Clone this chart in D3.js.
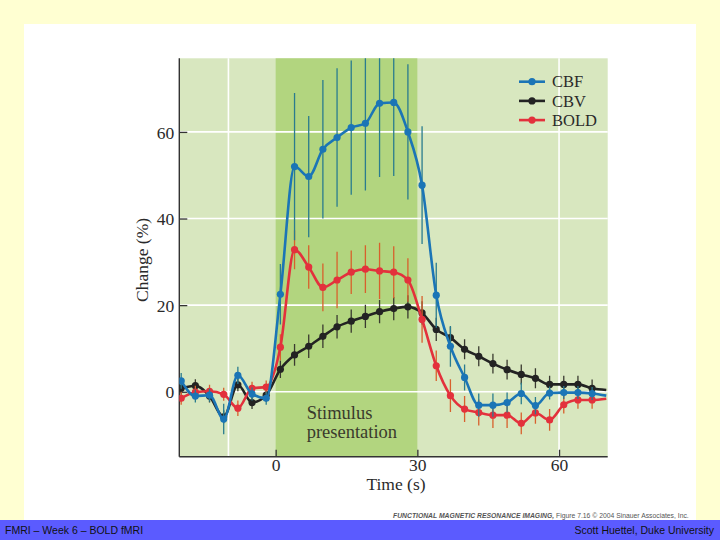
<!DOCTYPE html>
<html>
<head>
<meta charset="utf-8">
<script src="https://cdn.jsdelivr.net/npm/d3@7/dist/d3.min.js"></script>
<style>
  html, body { margin: 0; padding: 0; background: #ffffd2; }
  svg { display: block; }
</style>
</head>
<body>
<svg id="chart" width="720" height="540"></svg>
<script>
// ---- data ----
const times = [-20, -17, -14, -11, -8, -5, -2, 1, 4, 7, 10, 13, 16, 19, 22, 25, 28, 31, 34, 37, 40, 43, 46, 49, 52, 55, 58, 61, 64, 67, 70];
const cbf = [2.5, -1.0, -0.8, -6.3, 3.8, -0.5, -1.5, 22.5, 52.0, 49.7, 56.0, 58.7, 61.0, 62.0, 66.6, 66.8, 60.0, 47.7, 22.3, 10.5, 3.3, -3.1, -3.1, -2.5, -0.4, -3.2, -0.3, -0.2, -0.2, -0.4, -0.9];
const cbfErr = [1.8, 1.5, 1.5, 3.5, 2.0, 1.5, 1.5, 7.0, 17.0, 14.0, 16.0, 16.0, 15.5, 15.5, 17.0, 17.0, 15.6, 13.6, 7.5, 4.7, 3.0, 2.7, 2.7, 2.3, 2.5, 2.0, 1.5, 1.5, 1.5, 1.5, 0];
const cbv = [0.8, 1.4, -1.0, -5.8, 1.6, -2.5, -0.8, 5.2, 8.5, 10.5, 12.8, 15.0, 16.3, 17.4, 18.5, 19.2, 19.6, 18.2, 14.4, 12.5, 9.8, 8.2, 6.5, 5.1, 4.0, 3.1, 1.7, 1.7, 1.7, 0.8, 0.4];
const cbvErr = [1.5, 1.5, 1.5, 1.5, 1.5, 1.5, 1.5, 2.0, 2.5, 2.7, 2.7, 2.7, 2.7, 2.7, 2.7, 2.7, 2.7, 2.7, 2.7, 2.5, 2.3, 2.3, 2.3, 2.3, 2.3, 2.3, 2.0, 2.0, 2.0, 2.0, 0];
const bold = [-1.5, -0.1, 0.1, -0.6, -3.8, 0.8, 1.1, 10.3, 32.8, 28.8, 24.1, 25.8, 27.6, 28.3, 27.9, 27.6, 25.8, 16.7, 6.0, -0.9, -4.0, -4.8, -5.4, -5.4, -7.3, -4.9, -6.5, -3.0, -1.9, -1.9, -1.6];
const boldErr = [1.5, 1.5, 1.5, 1.5, 1.8, 1.5, 1.5, 3.0, 4.5, 5.0, 5.5, 6.5, 5.0, 5.5, 6.5, 6.0, 5.0, 5.4, 3.5, 3.8, 3.0, 3.0, 3.0, 3.0, 2.5, 2.5, 2.5, 2.0, 2.0, 2.0, 0];
const seriesNames = ["CBF", "CBV", "BOLD"];
const xTicks = [0, 30, 60];
const yTicks = [0, 20, 40, 60];
const xGrid = [-10, 60];
const stimulus = [0, 30];
const stimulusLabel = ["Stimulus", "presentation"];
const xLabel = "Time (s)";
const yLabel = "Change (%)";
const footerLeft = "FMRI – Week 6 – BOLD fMRI";
const footerRight = "Scott Huettel, Duke University";
const creditBold = "FUNCTIONAL MAGNETIC RESONANCE IMAGING,";
const creditRest = " Figure 7.16 © 2004 Sinauer Associates, Inc.";

// ---- layout ----
const svg = d3.select("#chart");
const serif = "'Liberation Serif', 'DejaVu Serif', serif";
const sans = "'Liberation Sans', Arial, sans-serif";
const L = 179.3, R = 607.7, T = 58.3, B = 456.7;

const x = d3.scaleLinear().domain([-20.4, 70.3]).range([L, R]);
const y = d3.scaleLinear().domain([-15, 77]).range([B, T]);

// page
svg.append("rect").attr("x", 0).attr("y", 0).attr("width", 720).attr("height", 540).attr("fill", "#ffffd2");
svg.append("rect").attr("x", 24).attr("y", 24).attr("width", 672).attr("height", 496).attr("fill", "#ffffff");

// plot background
svg.append("rect").attr("x", L).attr("y", T).attr("width", R - L).attr("height", B - T).attr("fill", "#d8e7bf");
svg.append("rect").attr("x", x(stimulus[0])).attr("y", T)
  .attr("width", x(stimulus[1]) - x(stimulus[0])).attr("height", B - T).attr("fill", "#b2d57f");

// grid
svg.append("g").selectAll("line").data(yTicks).join("line")
  .attr("x1", L).attr("x2", R).attr("y1", d => y(d)).attr("y2", d => y(d))
  .attr("stroke", "#ffffff").attr("stroke-width", 1.6);
svg.append("g").selectAll("line").data(xGrid).join("line")
  .attr("x1", d => x(d)).attr("x2", d => x(d)).attr("y1", T).attr("y2", B)
  .attr("stroke", "#ffffff").attr("stroke-width", 1.6);

// stimulus label
svg.append("g").selectAll("text").data(stimulusLabel).join("text")
  .attr("x", x(stimulus[0]) + 31).attr("y", (d, i) => 419 + i * 18.5)
  .attr("font-family", serif).attr("font-size", 18.5).attr("fill", "#3a3a2c")
  .text(d => d);

// axes
const yAxis = d3.axisLeft(y).tickValues(yTicks).tickSize(-8).tickPadding(5).tickFormat(d3.format("d"));
const xAxis = d3.axisBottom(x).tickValues(xTicks).tickSize(-7).tickPadding(2).tickFormat(d3.format("d"));
const gy = svg.append("g").attr("transform", `translate(${L},0)`).call(yAxis);
const gx = svg.append("g").attr("transform", `translate(0,${B})`).call(xAxis);
[gy, gx].forEach(g => {
  g.select(".domain").attr("stroke", "#333").attr("stroke-width", 1.4);
  g.selectAll(".tick line").attr("stroke", "#333").attr("stroke-width", 1.3);
  g.selectAll(".tick text").attr("font-family", serif).attr("font-size", 17.5).attr("fill", "#2a2a2a");
});
gy.select(".domain").attr("d", `M0,${T}V${B}`);
gx.select(".domain").attr("d", `M${L},0H${R}`);
gy.selectAll(".tick text").attr("dy", "0.35em");
gx.selectAll(".tick text").attr("dy", "0.71em");

svg.append("text").attr("x", 396).attr("y", 490).attr("text-anchor", "middle")
  .attr("font-family", serif).attr("font-size", 17.5).attr("fill", "#2a2a2a").text(xLabel);
svg.append("text").attr("transform", "translate(148,260) rotate(-90)").attr("text-anchor", "middle")
  .attr("font-family", serif).attr("font-size", 17.5).attr("fill", "#2a2a2a").text(yLabel);

// series
const series = [
  { name: "CBV", vals: cbv, err: cbvErr, color: "#232323", errColor: "#3a3a30" },
  { name: "BOLD", vals: bold, err: boldErr, color: "#e3313c", errColor: "#d8602c" },
  { name: "CBF", vals: cbf, err: cbfErr, color: "#1b75b6", errColor: "#2a7c8e" }
];

const clip = svg.append("clipPath").attr("id", "plotclip");
clip.append("rect").attr("x", L).attr("y", T).attr("width", R - L).attr("height", B - T);
const plot = svg.append("g").attr("clip-path", "url(#plotclip)");

const line = d3.line().x(d => x(d.t)).y(d => y(d.v)).curve(d3.curveMonotoneX);

series.forEach(s => {
  const pts = times.map((t, i) => ({ t, v: s.vals[i], e: s.err[i] }));
  const g = plot.append("g");
  g.selectAll("line.err").data(pts.filter(p => p.e > 0)).join("line").attr("class", "err")
    .attr("x1", d => x(d.t)).attr("x2", d => x(d.t))
    .attr("y1", d => y(d.v - d.e)).attr("y2", d => y(d.v + d.e))
    .attr("stroke", s.errColor).attr("stroke-width", 1.3);
  g.append("path").datum(pts).attr("d", line)
    .attr("fill", "none").attr("stroke", s.color).attr("stroke-width", 2.6);
  g.selectAll("circle").data(pts.filter(p => p.e > 0)).join("circle")
    .attr("cx", d => x(d.t)).attr("cy", d => y(d.v)).attr("r", 3.6)
    .attr("fill", s.color);
});

// legend
const legColors = { CBF: "#1b75b6", CBV: "#232323", BOLD: "#e3313c" };
const leg = svg.append("g");
seriesNames.forEach((n, i) => {
  const yy = 81.7 + i * 19.2;
  leg.append("line").attr("x1", 519).attr("x2", 545).attr("y1", yy).attr("y2", yy)
    .attr("stroke", legColors[n]).attr("stroke-width", 2.6);
  leg.append("circle").attr("cx", 532).attr("cy", yy).attr("r", 3.6).attr("fill", legColors[n]);
  leg.append("text").attr("x", 552).attr("y", yy).attr("dy", "0.35em")
    .attr("font-family", serif).attr("font-size", 16.5).attr("fill", "#2a2a2a").text(n);
});

// credit line
const cr = svg.append("text").attr("x", 393).attr("y", 518)
  .attr("font-family", sans).attr("font-size", 6.8).attr("fill", "#555");
cr.append("tspan").attr("font-weight", "bold").attr("font-style", "italic").text(creditBold);
cr.append("tspan").text(creditRest);

// footer bar
svg.append("rect").attr("x", 0).attr("y", 520).attr("width", 720).attr("height", 20).attr("fill", "#5b5bff");
svg.append("text").attr("x", 5).attr("y", 534).attr("font-family", sans).attr("font-size", 10.5)
  .attr("fill", "#111").text(footerLeft);
svg.append("text").attr("x", 714).attr("y", 534).attr("text-anchor", "end").attr("font-family", sans)
  .attr("font-size", 10.5).attr("fill", "#111").text(footerRight);
</script>
</body>
</html>
